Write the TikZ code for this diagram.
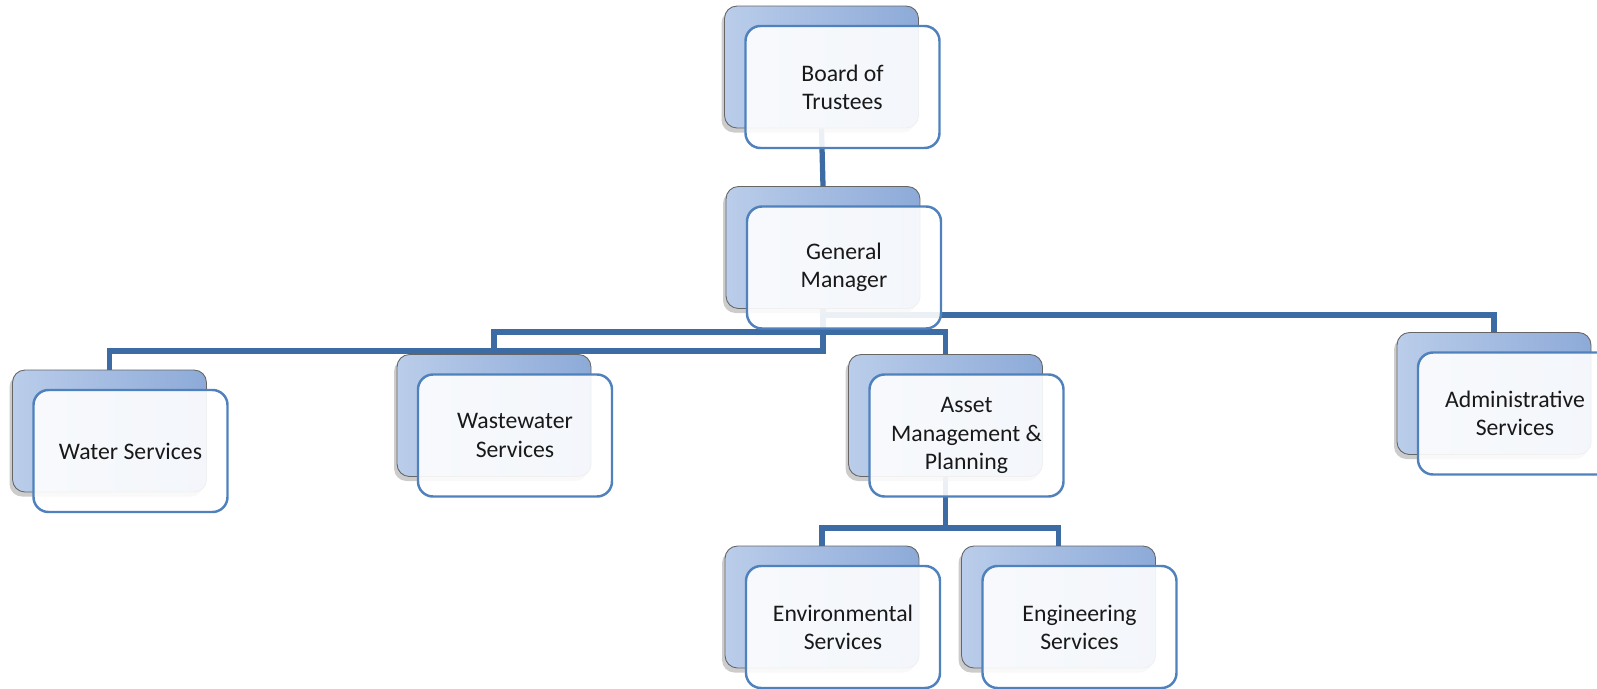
\documentclass[tikz,border=0pt]{standalone}
\usepackage{fontspec}
\setmainfont{Carlito}
\usetikzlibrary{shadows,backgrounds}

\definecolor{linkblue}{HTML}{3D6CA5}
\definecolor{frameblue}{HTML}{4F81BD}
\definecolor{backleft}{HTML}{BACDEA}
\definecolor{backright}{HTML}{8DAAD8}

\tikzset{
	backbox/.style={rectangle, rounded corners=2.5mm, minimum width=3.88cm, minimum height=2.44cm,
		left color=backleft, right color=backright, draw=black!60, line width=0.5pt,
		drop shadow={shadow xshift=-0.6mm, shadow yshift=-0.9mm, opacity=0.4}},
	frontbox/.style={rectangle, rounded corners=3mm, minimum width=3.88cm, minimum height=2.44cm,
		fill=white, fill opacity=0.9, text opacity=1, draw=frameblue, line width=1.4pt,
		align=center, font=\fontsize{13.5}{16}\selectfont, text=black!90,
		xshift=4.2mm, yshift=-4mm},
	link/.style={linkblue, line width=3pt},
}

\begin{document}
\begin{tikzpicture}
	\useasboundingbox (0,0) rectangle (31.94,-13.76);

	%top
	\node[backbox] (board) at (16.43,-1.34) {};
	\node[frontbox] (boardtxt) at (board) {Board of\\Trustees};
	%
	\node[backbox] (gm) at (16.46,-4.95) {};
	\node[frontbox] (gmtxt) at (gm) {General\\Manager};

	%departments
	\node[backbox] (water) at (2.19,-8.62) {};
	\node[frontbox] (watertxt) at (water) {Water Services};
	%
	\node[backbox] (waste) at (9.88,-8.31) {};
	\node[frontbox] (wastetxt) at (waste) {Wastewater\\Services};
	%
	\node[backbox] (asset) at (18.91,-8.31) {};
	\node[frontbox] (assettxt) at (asset) {Asset\\Management \&\\Planning};
	%
	\node[backbox] (admin) at (29.88,-7.87) {};
	\node[frontbox] (admintxt) at (admin) {Administrative\\Services};

	%under asset management
	\node[backbox] (env) at (16.44,-12.14) {};
	\node[frontbox] (envtxt) at (env) {Environmental\\Services};
	%
	\node[backbox] (eng) at (21.17,-12.14) {};
	\node[frontbox] (engtxt) at (eng) {Engineering\\Services};

	%connectors
	\coordinate (barA) at (0,-6.30);
	\coordinate (barM) at (0,-6.64);
	\coordinate (barW) at (0,-7.02);
	\coordinate (barL) at (0,-10.56);
	\begin{scope}[on background layer]
		\draw[link] (board.south) -- (gm.north);
		\draw[link] (gm.south) -- (gm.south |- barW) -| (water.north);
		\draw[link] (gm.south) -- (gm.south |- barM) -| (waste.north);
		\draw[link] (gm.south |- barM) -| (asset.north);
		\draw[link] (gm.south) -- (gm.south |- barA) -| (admin.north);
		%
		\draw[link] (asset.south) -- (asset.south |- barL) -| (env.north);
		\draw[link] (asset.south |- barL) -| (eng.north);
	\end{scope}
\end{tikzpicture}
\end{document}
